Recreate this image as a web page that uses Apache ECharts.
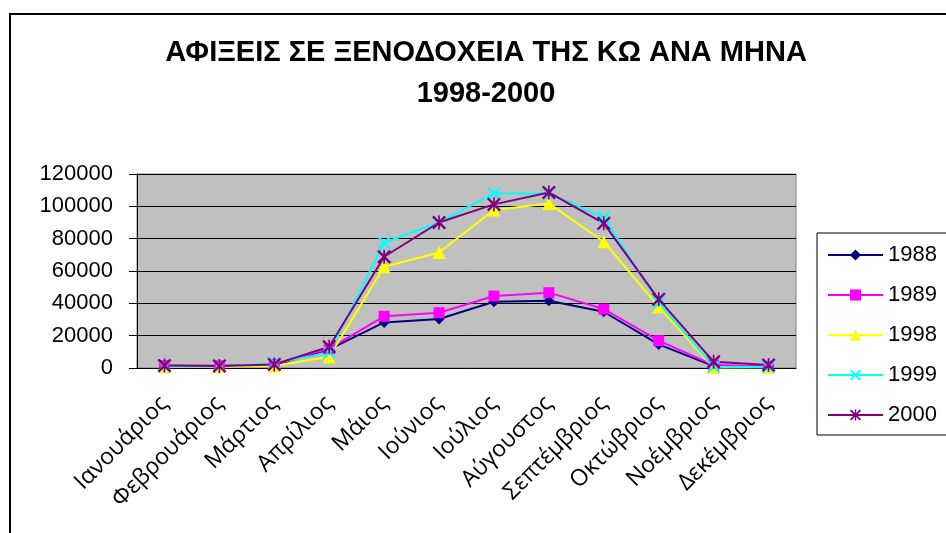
<!DOCTYPE html>
<html>
<head>
<meta charset="utf-8">
<script src="https://cdn.jsdelivr.net/npm/echarts@6/dist/echarts.min.js"></script>
<style>html,body{margin:0;padding:0;background:#fff}#chart{width:946px;height:533px}</style>
</head>
<body>
<div id="chart"></div>
<script>
const months = ['Ιανουάριος','Φεβρουάριος','Μάρτιος','Απρίλιος','Μάιος','Ιούνιος','Ιούλιος','Αύγουστος','Σεπτέμβριος','Οκτώβριος','Νοέμβριος','Δεκέμβριος']
const years = ['1988','1989','1998','1999','2000']
const v1988 = [1200, 1100, 1800, 11500, 28200, 30300, 41000, 41600, 34800, 14600, 1200, 800]
const v1989 = [1500, 1400, 2200, 12000, 32000, 34200, 44500, 46600, 36500, 16900, 1800, 1000]
const v1998 = [800, 700, 1200, 7000, 62600, 71500, 97700, 101800, 78100, 37900, 300, 500]
const v1999 = [1000, 1000, 3000, 9500, 77500, 90000, 108000, 108000, 93000, 40400, 800, 600]
const v2000 = [1500, 1300, 2200, 13200, 68800, 90000, 101200, 108600, 89500, 42500, 3900, 1800]

const cross = 'path://M0,1.2L1.2,0L5,3.8L8.8,0L10,1.2L6.2,5L10,8.8L8.8,10L5,6.2L1.2,10L0,8.8L3.8,5Z'
const star = 'path://M0,1.2L1.2,0L5,3.8L8.8,0L10,1.2L6.2,5L10,8.8L8.8,10L5,6.2L1.2,10L0,8.8L3.8,5ZM4.4,0L5.6,0L5.6,10L4.4,10Z'

const styles = [
  { color: '#000080', symbol: 'diamond', size: 11 },
  { color: '#FF00FF', symbol: 'rect', size: 11 },
  { color: '#FFFF00', symbol: 'triangle', size: 13 },
  { color: '#00FFFF', symbol: cross, size: 13 },
  { color: '#800080', symbol: star, size: 14 },
]
const values = [v1988, v1989, v1998, v1999, v2000]

const chart = echarts.init(document.getElementById('chart'))
chart.setOption({
  animation: false,
  title: {
    text: 'ΑΦΙΞΕΙΣ ΣΕ ΞΕΝΟΔΟΧΕΙΑ ΤΗΣ ΚΩ ΑΝΑ ΜΗΝΑ\n1998-2000',
    left: 486, top: 32, padding: 0, textAlign: 'center',
    textStyle: { fontFamily: "'Liberation Sans', Arial", fontWeight: 'bold', fontSize: 29, lineHeight: 41, color: '#000' },
  },
  legend: {
    orient: 'vertical', left: 817, top: 233,
    padding: [10, 20, 8, 10], itemGap: 16,
    itemWidth: 55, itemHeight: 14,
    borderColor: '#000', borderWidth: 1,
    textStyle: { fontFamily: "'Liberation Sans', Arial", fontSize: 22, lineHeight: 24, color: '#000' },
    data: years,
  },
  grid: { left: 137, right: 150, top: 174, bottom: 165, show: true, backgroundColor: '#C0C0C0', borderColor: '#808080', borderWidth: 1 },
  xAxis: {
    type: 'category', data: months, boundaryGap: true,
    axisLine: { lineStyle: { color: '#000', width: 1 } },
    axisTick: { length: 7, lineStyle: { color: '#000' } },
    axisLabel: { rotate: 45, interval: 0, margin: 32, fontFamily: "'Open Sans', 'Noto Sans'", fontSize: 23, color: '#000' },
  },
  yAxis: {
    type: 'value', min: 0, max: 120000, interval: 20000,
    axisLine: { show: true, lineStyle: { color: '#000', width: 1 } },
    axisTick: { show: true, length: 8, lineStyle: { color: '#000' } },
    splitLine: { lineStyle: { color: '#000', width: 1 } },
    axisLabel: { margin: 24, fontFamily: "'Liberation Sans', Arial", fontSize: 22, color: '#000', formatter: v => String(v) },
  },
  graphic: [
    { type: 'rect', shape: { x: 10, y: 14, width: 1000, height: 600 }, style: { fill: 'none', stroke: '#000', lineWidth: 2 }, silent: true, z: -1 },
  ],
  series: years.map((y, i) => ({
    name: y, type: 'line', data: values[i],
    symbol: styles[i].symbol, symbolSize: styles[i].size,
    lineStyle: { color: styles[i].color, width: 2 },
    itemStyle: { color: styles[i].color },
  })),
})
</script>
</body>
</html>
